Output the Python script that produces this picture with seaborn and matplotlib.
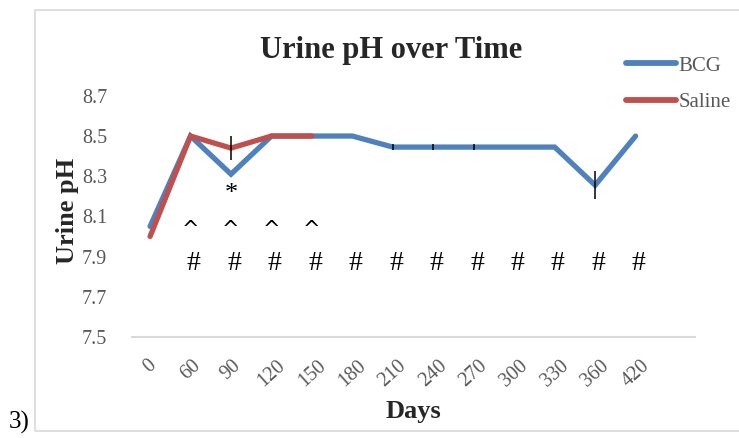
# import libraries
import numpy as np
import pandas as pd
import seaborn as sns
import matplotlib.pyplot as plt
from matplotlib.patches import Rectangle
from matplotlib.lines import Line2D

# data
days = ["0", "60", "90", "120", "150", "180", "210", "240", "270", "300", "330", "360", "420"]
bcg = [8.05, 8.50, 8.31, 8.50, 8.50, 8.50, 8.445, 8.445, 8.445, 8.445, 8.445, 8.255, 8.50]
saline = [8.00, 8.50, 8.44, 8.50, 8.50]

# error bars (day, value, half-width)
err_days = ["90", "210", "240", "270", "360"]
err_vals = [8.44, 8.445, 8.445, 8.445, 8.255]
err_size = [0.06, 0.015, 0.015, 0.015, 0.07]

# significance marks
star_days = ["90"]
caret_days = ["60", "90", "120", "150"]
hash_days = ["60", "90", "120", "150", "180", "210", "240", "270", "300", "330", "360", "420"]

sns.set_style("white")
plt.rcParams["font.family"] = ["Liberation Serif", "DejaVu Serif"]

pos = {d: i for i, d in enumerate(days)}
df = pd.concat([
    pd.DataFrame({"day": days, "pH": bcg, "group": "BCG"}),
    pd.DataFrame({"day": days[:len(saline)], "pH": saline, "group": "Saline"}),
])
df["x"] = df["day"].map(pos)

fig = plt.figure(figsize=(7.39, 4.38), dpi=100)
ax = fig.add_axes([0.179, 0.231, 0.761, 0.573])

# outer frame
fig.patches.append(Rectangle((0.047, 0.015), 1.2, 0.962, transform=fig.transFigure,
                             fill=False, edgecolor="#d9d9d9", linewidth=1.2, zorder=0))

colors = {"BCG": "#4f81bd", "Saline": "#c0504d"}
sns.lineplot(data=df, x="x", y="pH", hue="group", hue_order=["BCG", "Saline"],
             palette=colors, linewidth=3.8, ax=ax, legend=False,
             solid_capstyle="round", solid_joinstyle="miter")

ax.errorbar([pos[d] for d in err_days], err_vals, yerr=err_size, fmt="none",
            ecolor="black", elinewidth=1.1, capsize=0, zorder=5)

for d in star_days:
    ax.text(pos[d], 8.21, "*", ha="center", va="center", fontsize=19, color="black")
for d in caret_days:
    ax.text(pos[d], 8.03, "^", ha="center", va="center", fontsize=15, color="black",
            family="DejaVu Sans")
for d in hash_days:
    ax.text(pos[d] + 0.08, 7.865, "#", ha="center", va="center", fontsize=20, color="black")

ax.set_xlim(-0.44, 13.46)
ax.set_ylim(7.5, 8.75)
ax.set_yticks([7.5, 7.7, 7.9, 8.1, 8.3, 8.5, 8.7])
ax.set_yticklabels(["7.5", "7.7", "7.9", "8.1", "8.3", "8.5", "8.7"])
ax.set_xticks(range(len(days)))
ax.set_xticklabels(days, rotation=42, ha="center", va="top")
ax.tick_params(axis="both", length=0, labelsize=14.5, labelcolor="#595959")
ax.tick_params(axis="x", pad=14)
ax.tick_params(axis="y", pad=18)

for s in ["top", "right", "left"]:
    ax.spines[s].set_visible(False)
ax.spines["bottom"].set_color("#d9d9d9")
ax.spines["bottom"].set_linewidth(1.5)

ax.set_xlabel("Days", fontsize=19, fontweight="bold", labelpad=7)
ax.set_ylabel("Urine pH", fontsize=19, fontweight="bold", labelpad=2)
ax.set_title("Urine pH over Time", fontsize=22, fontweight="bold", pad=20, x=0.46)

handles = [Line2D([], [], color=colors[g], linewidth=4.2, solid_capstyle="round") for g in ["BCG", "Saline"]]
leg = fig.legend(handles, ["BCG", "Saline"], loc="upper left", bbox_to_anchor=(0.822, 0.915),
                 frameon=False, fontsize=15, handlelength=2.4, handletextpad=0.1, labelspacing=0.8)
for t in leg.get_texts():
    t.set_color("#595959")

fig.text(0.012, 0.022, "3)", fontsize=18, color="black")

plt.savefig("out.png", dpi=100)
